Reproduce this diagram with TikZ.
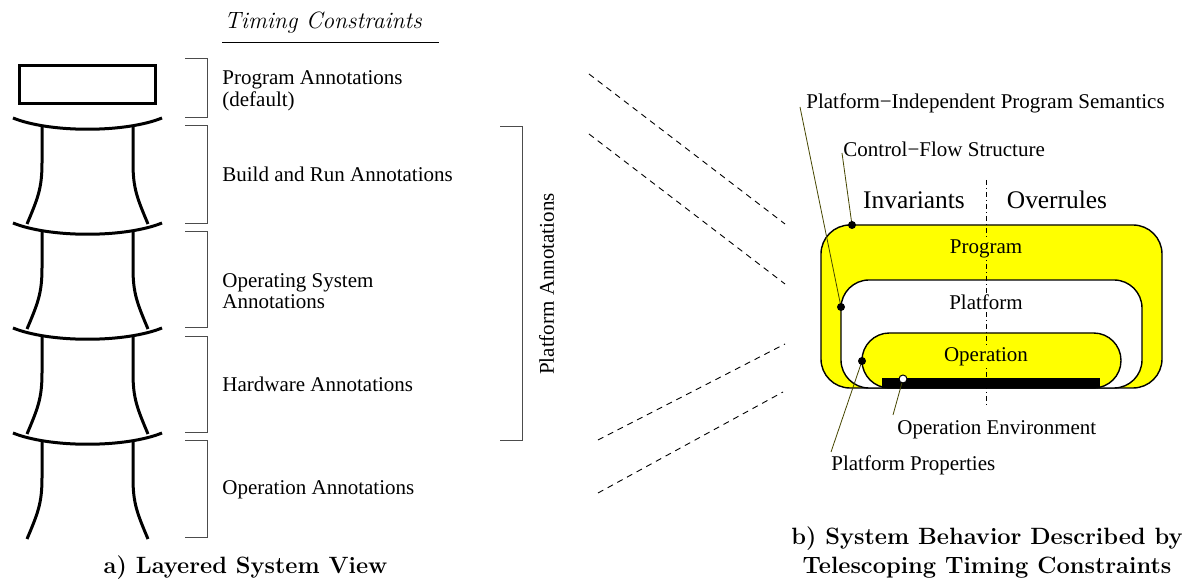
\documentclass[tikz,border=0pt]{standalone}
\usepackage{fontspec}
\newfontfamily\tms{Liberation Serif}
\definecolor{ylw}{RGB}{255,255,0}
\definecolor{leader}{RGB}{70,70,0}
\begin{document}
\begin{tikzpicture}[x=0.5pt,y=-0.5pt,
  lbl/.style={font=\tms\fontsize{10.5}{10.8}\selectfont, inner sep=0pt, align=left},
  cmcap/.style={font=\fontsize{11.8}{14.5}\selectfont\bfseries, inner sep=0pt, align=center},
  layer/.style={line width=1.5pt},
  brk/.style={draw=black!70, line width=0.5pt},
  dline/.style={line width=0.45pt, dash pattern=on 3pt off 2.5pt},
  shp/.style={draw=black, line width=0.7pt},
  lead/.style={draw=leader, line width=0.4pt},
  bdot/.style={fill=black},
  wdot/.style={fill=white, draw=black, line width=0.5pt},
  inlbl/.style={font=\tms\fontsize{10.5}{12}\selectfont, inner sep=1pt},
  big/.style={font=\tms\fontsize{12.7}{14}\selectfont, inner sep=0pt}
]
\useasboundingbox (0,0) rectangle (1185,581);

% ---- left: layered system view ----
\node[font=\fontsize{11.8}{13}\selectfont\itshape, inner sep=0pt, anchor=west] (tc) at (224,23) {Timing Constraints};
\draw[line width=0.5pt] (222,43) -- (439,43);

\draw[layer] (19,66) rectangle (155,104);
\foreach \t in {118,223,328,433}{
  \draw[layer] (13,\t) .. controls (50,\t+15) and (125,\t+15) .. (162,\t);
  \draw[layer] (42,\t+8) -- (42,\t+45) .. controls (42,\t+70) and (38,\t+80) .. (27,\t+106);
  \draw[layer] (133,\t+8) -- (133,\t+45) .. controls (133,\t+70) and (137,\t+80) .. (148,\t+106);
}

\draw[brk] (185,59) -- (207,59) -- (207,118) -- (185,118);
\draw[brk] (185,126) -- (207,126) -- (207,224) -- (185,224);
\draw[brk] (185,232) -- (207,232) -- (207,328) -- (185,328);
\draw[brk] (185,337) -- (207,337) -- (207,433) -- (185,433);
\draw[brk] (185,441) -- (207,441) -- (207,538) -- (185,538);

\node[lbl, anchor=west] (pa) at (222,90.5) {Program Annotations\\(default)};
\node[lbl, anchor=west] (ba) at (222,174.5) {Build and Run Annotations};
\node[lbl, anchor=west] (oa) at (222,291) {Operating System\\Annotations};
\node[lbl, anchor=west] (ha) at (222,384.5) {Hardware Annotations};
\node[lbl, anchor=west] (opa) at (222,489.5) {Operation Annotations};

\node[cmcap] (capa) at (245.5,568) {a) Layered System View};

% ---- big bracket ----
\draw[brk] (500,127) -- (522,127) -- (522,441) -- (500,441);
\node[lbl, rotate=90] (plat) at (546.5,284) {Platform Annotations};

% ---- dashed lines ----
\coordinate (d1a) at (589,74);  \coordinate (d1b) at (785,224);
\coordinate (d2a) at (589,134); \coordinate (d2b) at (785,284);
\coordinate (d3a) at (598,440); \coordinate (d3b) at (785,344);
\coordinate (d4a) at (598,493); \coordinate (d4b) at (783,392);
\draw[dline] (d1a) -- (d1b);
\draw[dline] (d2a) -- (d2b);
\draw[dline] (d3a) -- (d3b);
\draw[dline] (d4a) -- (d4b);

% ---- right: telescoping shapes ----
\draw[shp, fill=ylw, rounded corners=14.5pt] (821,225) rectangle (1162,388);
\draw[shp, fill=white, rounded corners=14pt] (841,280) rectangle (1142,388);
\draw[shp, fill=ylw, rounded corners=13.7pt] (862,333) rectangle (1121,388);
\fill[black] (882,378) rectangle (1100,388);

\draw[line width=0.4pt, dash pattern=on 2.5pt off 1.5pt on 0.5pt off 1.5pt] (986,180) -- (986,405);

\node[big] (inv) at (914,200) {Invariants};
\node[big] (ovr) at (1057,200) {Overrules};
\node[inlbl, fill=ylw] (prog) at (986,248.5) {Program};
\node[inlbl, fill=white] (platf) at (986,302.5) {Platform};
\node[inlbl, fill=ylw] (oper) at (986,356.5) {Operation};

% ---- leaders ----
\node[lbl, anchor=west] (pips) at (806,103.5) {Platform−Independent Program Semantics};
\node[lbl, anchor=west] (cfs) at (843,149.5) {Control−Flow Structure};
\node[lbl, anchor=west] (pp) at (831,465) {Platform Properties};
\node[lbl, anchor=west] (oe) at (897,429.5) {Operation Environment};

\coordinate (l1) at (800,107); \coordinate (p1) at (841,307);
\coordinate (l2) at (842,153); \coordinate (p2) at (852,225);
\coordinate (l3) at (831,452); \coordinate (p3) at (862,361);
\coordinate (l4) at (893,415); \coordinate (p4) at (903,379);
\draw[lead] (l1) -- (p1);
\draw[lead] (l2) -- (p2);
\draw[lead] (l3) -- (p3);
\draw[lead] (l4) -- (p4);
\fill[bdot] (p1) circle (2pt);
\fill[bdot] (p2) circle (2pt);
\fill[bdot] (p3) circle (2pt);
\draw[wdot] (p4) circle (2pt);

\node[cmcap] (capb) at (987,552.5) {b) System Behavior Described by\\Telescoping Timing Constraints};
\end{tikzpicture}
\end{document}
